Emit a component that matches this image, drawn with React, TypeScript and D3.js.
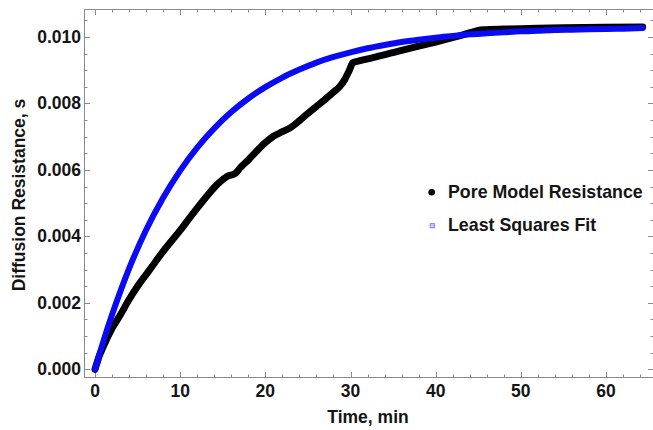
import React from "react";
import * as d3 from "d3";

// Pore model resistance over time (min, s)
const poreTime = [0, 0.5, 1, 2, 3, 4, 5, 6, 7, 8, 9, 10, 11, 12, 13, 14, 15, 15.5, 16.5, 17, 18, 19, 20, 21, 22, 23, 24, 25, 26, 27, 28, 28.8, 29.3, 29.8, 30.3, 31, 33, 36, 40, 43, 45.6, 48, 50, 55, 60, 64.3];
const poreValue = [0, 0.0004, 0.0007, 0.00123, 0.00165, 0.0021, 0.0025, 0.00285, 0.0032, 0.00355, 0.00387, 0.00418, 0.00452, 0.00485, 0.00517, 0.00547, 0.00571, 0.0058, 0.0059, 0.00605, 0.0063, 0.00657, 0.00682, 0.00702, 0.00715, 0.00728, 0.00748, 0.0077, 0.00791, 0.00812, 0.00834, 0.00853, 0.00871, 0.00896, 0.00923, 0.00928, 0.0094, 0.0096, 0.00985, 0.01005, 0.01022, 0.01024, 0.01025, 0.01028, 0.01029, 0.0103];

// Least squares fit over time
const fitTime = [0, 1, 2, 3, 4, 6, 8, 10, 12, 14, 16, 18, 20, 22, 24, 26, 28, 30, 32, 34, 36, 38, 40, 42, 44, 46, 48, 50, 52, 54, 56, 58, 60, 62, 64.3];
const fitValue = [0, 0.000858, 0.00164, 0.00236, 0.00303, 0.00419, 0.00516, 0.00598, 0.00667, 0.00725, 0.00774, 0.00815, 0.00849, 0.00878, 0.00902, 0.00923, 0.0094, 0.00954, 0.00966, 0.00976, 0.00985, 0.00992, 0.00998, 0.01003, 0.01008, 0.01011, 0.01014, 0.01017, 0.01019, 0.01021, 0.01022, 0.01023, 0.01024, 0.01025, 0.01027];

const xMajorTicks = [0, 10, 20, 30, 40, 50, 60];
const yMajorTicks = [0, 0.002, 0.004, 0.006, 0.008, 0.01];

const seriesNames = ["Pore Model Resistance", "Least Squares Fit"];

const W = 653;
const H = 430;
const frame = { left: 84.5, right: 653.5, top: 9.5, bottom: 377.5 };
const FONT = "'Liberation Sans', Arial, sans-serif";
const FRAME_COLOR = "#8a8a8a";
const TEXT_COLOR = "#141414";

export default function App() {
  const x = d3.scaleLinear().domain([0, 60]).range([95, 606]);
  const y = d3.scaleLinear().domain([0, 0.01]).range([369.3, 37]);

  const xMinor = d3.range(0, 66, 2).filter((v) => x(v) > frame.left && x(v) < frame.right);
  const yMinor = d3.range(0, 0.0109, 0.0005).filter((v) => y(v) > frame.top && y(v) < frame.bottom);
  const xMajorSet = new Set(xMajorTicks);
  const yMajorKeys = new Set(yMajorTicks.map((v) => v.toFixed(4)));

  const line = d3
    .line<[number, number]>()
    .x((d) => x(d[0]))
    .y((d) => y(d[1]))
    .curve(d3.curveMonotoneX);

  const porePts = poreTime.map((t, i) => [t, poreValue[i]] as [number, number]);
  const fitPts = fitTime.map((t, i) => [t, fitValue[i]] as [number, number]);

  return (
    <svg
      width={W}
      height={H}
      style={{ position: "absolute", left: 0, top: 0, background: "#fff" }}
      fontFamily={FONT}
    >
      <defs>
        <clipPath id="plotArea">
          <rect x={frame.left} y={frame.top} width={frame.right - frame.left} height={frame.bottom - frame.top} />
        </clipPath>
      </defs>

      {/* frame */}
      <rect
        x={frame.left}
        y={frame.top}
        width={frame.right - frame.left}
        height={frame.bottom - frame.top}
        fill="none"
        stroke={FRAME_COLOR}
        strokeWidth={1}
      />

      {/* x ticks, bottom and top */}
      {xMinor.map((v) => {
        const len = xMajorSet.has(v) ? 5.5 : 3;
        const px = Math.round(x(v)) + 0.5;
        return (
          <g key={"xt" + v} stroke={FRAME_COLOR} strokeWidth={1}>
            <line x1={px} x2={px} y1={frame.bottom} y2={frame.bottom - len} />
            <line x1={px} x2={px} y1={frame.top} y2={frame.top + len} />
          </g>
        );
      })}

      {/* y ticks, left and right */}
      {yMinor.map((v) => {
        const len = yMajorKeys.has(v.toFixed(4)) ? 5.5 : 3;
        const py = Math.round(y(v)) + 0.5;
        return (
          <g key={"yt" + v} stroke={FRAME_COLOR} strokeWidth={1}>
            <line x1={frame.left} x2={frame.left + len} y1={py} y2={py} />
            <line x1={frame.right} x2={frame.right - len} y1={py} y2={py} />
          </g>
        );
      })}

      {/* tick labels */}
      {xMajorTicks.map((v) => (
        <text key={"xl" + v} x={x(v)} y={397} textAnchor="middle" fontSize={17.5} fontWeight="bold" fill={TEXT_COLOR}>
          {v}
        </text>
      ))}
      {yMajorTicks.map((v) => (
        <text key={"yl" + v} x={81} y={y(v) + 6} textAnchor="end" fontSize={17.5} fontWeight="bold" fill={TEXT_COLOR}>
          {d3.format(".3f")(v)}
        </text>
      ))}

      {/* axis titles */}
      <text x={368} y={423} textAnchor="middle" fontSize={17.5} fontWeight="bold" fill={TEXT_COLOR}>
        Time, min
      </text>
      <text
        transform={`translate(25,195) rotate(-90)`}
        textAnchor="middle"
        fontSize={17.5}
        fontWeight="bold"
        fill={TEXT_COLOR}
      >
        Diffusion Resistance, s
      </text>

      {/* data */}
      <g clipPath="url(#plotArea)">
        <path
          d={line(porePts) || ""}
          fill="none"
          stroke="#000"
          strokeWidth={7}
          strokeLinecap="round"
          strokeLinejoin="round"
        />
        <path
          d={line(fitPts) || ""}
          fill="none"
          stroke="#0a0af5"
          strokeWidth={6}
          strokeLinecap="round"
          strokeLinejoin="round"
        />
      </g>

      {/* legend */}
      <circle cx={431.7} cy={192.3} r={3.3} fill="#000" />
      <text x={448} y={198} fontSize={17.8} fontWeight="bold" fill={TEXT_COLOR}>
        {seriesNames[0]}
      </text>
      <rect x={430.2} y={223.6} width={4.2} height={4.2} fill="#c8c8ff" stroke="#8080ff" strokeWidth={1} />
      <text x={448} y={230.5} fontSize={17.8} fontWeight="bold" fill={TEXT_COLOR}>
        {seriesNames[1]}
      </text>
    </svg>
  );
}
